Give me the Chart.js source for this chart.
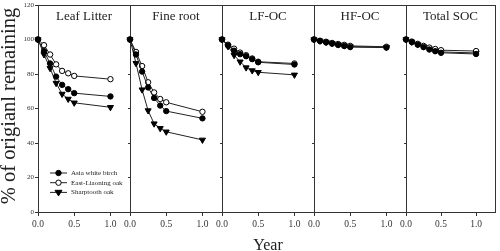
<!DOCTYPE html>
<html>
<head>
<meta charset="utf-8">
<script src="https://cdn.jsdelivr.net/npm/chart.js@4.4.1/dist/chart.umd.min.js"></script>
<style>
  body { margin: 0; background: #fff; }
  #wrap { position: relative; width: 500px; height: 251px; }
  #wrap canvas { position: absolute; left: 0; top: 0; }
</style>
</head>
<body>
<div id="wrap"></div>
<script>
// sampling times (years): monthly for half a year, then one year
const years = [0, 0.083, 0.167, 0.25, 0.333, 0.417, 0.5, 1.0];
const xTicks = [0, 0.5, 1.0];
const yTicks = [0, 20, 40, 60, 80, 100, 120];

const panels = ['Leaf Litter', 'Fine root', 'LF-OC', 'HF-OC', 'Total SOC'];
const species = ['Asia white birch', 'East-Liaoning oak', 'Sharptooth oak'];

// % of original remaining
const leafBirch     = [100, 93.2, 86.1, 78.5, 73.7, 71.2, 68.9, 67.0];
const leafLiaoning  = [100, 96.7, 91.3, 85.6, 81.8, 80.4, 78.9, 77.0];
const leafSharp     = [100, 91.3, 83.3, 74.7, 68.4, 65.5, 63.3, 60.7];

const rootBirch     = [100, 91.3, 81.4, 72.2, 66.1, 61.7, 58.5, 54.3];
const rootLiaoning  = [100, 92.8, 84.6, 75.2, 69.3, 65.5, 63.6, 58.1];
const rootSharp     = [100, 86.2, 70.9, 58.8, 51.2, 48.5, 46.5, 41.8];

const lfBirch       = [100, 96.5, 93.5, 91.5, 90.3, 88.6, 86.8, 85.5];
const lfLiaoning    = [100, 97.0, 94.7, 92.4, 90.9, 89.0, 87.1, 86.1];
const lfSharp       = [100, 96.0, 90.9, 87.1, 83.7, 82.0, 81.0, 79.5];

const hfBirch       = [100, 99.1, 98.3, 97.6, 96.8, 96.2, 95.6, 95.3];
const hfLiaoning    = [100, 99.3, 98.7, 98.0, 97.4, 96.9, 96.3, 95.8];
const hfSharp       = [100, 99.2, 98.5, 97.8, 97.1, 96.5, 95.9, 95.5];

const socBirch      = [100, 98.5, 97.0, 95.6, 94.2, 93.2, 92.3, 91.6];
const socLiaoning   = [100, 98.8, 97.5, 96.3, 95.3, 94.5, 93.8, 93.3];
const socSharp      = [100, 98.6, 97.2, 95.9, 94.7, 93.7, 92.8, 92.2];

const series = [
  [leafBirch, leafLiaoning, leafSharp],
  [rootBirch, rootLiaoning, rootSharp],
  [lfBirch, lfLiaoning, lfSharp],
  [hfBirch, hfLiaoning, hfSharp],
  [socBirch, socLiaoning, socSharp]
];

const FONT = '"Liberation Serif", "Times New Roman", serif';
const INK = '#222';
const PANEL_X = [38, 130, 222, 314, 406];
const PANEL_W = 92;
const Y_AXIS_W = 30;   // fixed box widths so every panel lines up
const X_AXIS_H = 30;

const styles = [
  { pointStyle: 'circle', pointRadius: 2.7, pointBackgroundColor: '#000', pointRotation: 0 },
  { pointStyle: 'circle', pointRadius: 2.7, pointBackgroundColor: '#fff', pointRotation: 0 },
  { pointStyle: 'triangle', pointRadius: 3.5, pointBackgroundColor: '#000', pointRotation: 180 }
];

function marker(ctx, st, x, y) {
  ctx.save();
  ctx.fillStyle = st.pointBackgroundColor;
  ctx.strokeStyle = '#000';
  ctx.lineWidth = 1;
  ctx.beginPath();
  if (st.pointStyle === 'circle') {
    ctx.arc(x, y, st.pointRadius, 0, Math.PI * 2);
  } else {
    const r = st.pointRadius;
    ctx.moveTo(x - r, y - r * 0.6);
    ctx.lineTo(x + r, y - r * 0.6);
    ctx.lineTo(x, y + r);
    ctx.closePath();
  }
  ctx.fill();
  ctx.stroke();
  ctx.restore();
}

// box around each panel + its title (legend and axis titles on the first one)
const framePlugin = {
  id: 'frame',
  beforeDatasetsDraw(chart) {
    const { ctx, chartArea: a } = chart;
    ctx.save();
    ctx.strokeStyle = '#333';
    ctx.lineWidth = 1;
    ctx.strokeRect(a.left + 0.5, a.top + 0.5, a.right - a.left, a.bottom - a.top);
    ctx.restore();
  },
  afterDraw(chart, args, opts) {
    const { ctx, chartArea: a } = chart;
    ctx.save();
    ctx.fillStyle = INK;
    ctx.font = '13px ' + FONT;
    ctx.textAlign = 'center';
    ctx.textBaseline = 'middle';
    ctx.fillText(opts.text, (a.left + a.right) / 2, 17);
    if (opts.first) {
      ctx.font = '7px ' + FONT;
      ctx.textAlign = 'left';
      species.forEach((name, k) => {
        const y = 173 + k * 9.7;
        ctx.strokeStyle = INK;
        ctx.beginPath();
        ctx.moveTo(50, y); ctx.lineTo(67, y);
        ctx.stroke();
        marker(ctx, styles[k], 58.5, y);
        ctx.fillStyle = INK;
        ctx.fillText(name, 71, y);
      });
      ctx.font = '16px ' + FONT;
      ctx.textAlign = 'center';
      ctx.textBaseline = 'alphabetic';
      ctx.fillText('Year', 268, 250);
      ctx.translate(15, 106);
      ctx.rotate(-Math.PI / 2);
      ctx.font = '20.5px ' + FONT;
      ctx.fillText('% of origianl remaining', 0, 0);
    }
    ctx.restore();
  }
};

const wrap = document.getElementById('wrap');

panels.forEach((title, i) => {
  const canvas = document.createElement('canvas');
  canvas.width = 500;
  canvas.height = 251;
  wrap.appendChild(canvas);
  const left = PANEL_X[i];
  const right = 500 - (left + PANEL_W);

  new Chart(canvas, {
    type: 'line',
    data: {
      datasets: series[i].map((vals, k) => ({
        label: species[k],
        data: years.map((x, j) => ({ x, y: vals[j] })),
        borderColor: INK,
        borderWidth: 1,
        pointBorderColor: '#000',
        pointBorderWidth: 1,
        tension: 0,
        clip: false,
        ...styles[k]
      }))
    },
    options: {
      responsive: false,
      animation: false,
      events: [],
      layout: { padding: { left: left - Y_AXIS_W, right, top: 3, bottom: 39 - X_AXIS_H } },
      plugins: {
        legend: { display: false },
        tooltip: { enabled: false },
        frame: { text: title, first: i === 0 }
      },
      scales: {
        x: {
          type: 'linear', min: 0, max: 1.27,
          afterBuildTicks: s => { s.ticks = xTicks.map(v => ({ value: v })); },
          afterFit: s => { s.height = X_AXIS_H; s.paddingLeft = 0; s.paddingRight = 0; },
          grid: { display: true, drawOnChartArea: false, tickLength: 4, tickColor: '#333' },
          border: { display: false },
          ticks: {
            callback: v => Number(v).toFixed(1),
            font: { family: FONT, size: 9.5 }, color: '#333',
            padding: 3, maxRotation: 0, autoSkip: false
          }
        },
        y: {
          min: 0, max: 120,
          afterBuildTicks: s => { s.ticks = yTicks.map(v => ({ value: v })); },
          afterFit: s => { s.width = Y_AXIS_W; s.paddingTop = 0; s.paddingBottom = 0; },
          grid: { display: true, drawOnChartArea: false, tickLength: i === 0 ? 3 : 2, tickColor: '#333' },
          border: { display: false },
          ticks: {
            display: i === 0,
            font: { family: FONT, size: 7 }, color: '#333',
            padding: 1
          }
        }
      }
    },
    plugins: [framePlugin]
  });
});
</script>
</body>
</html>
